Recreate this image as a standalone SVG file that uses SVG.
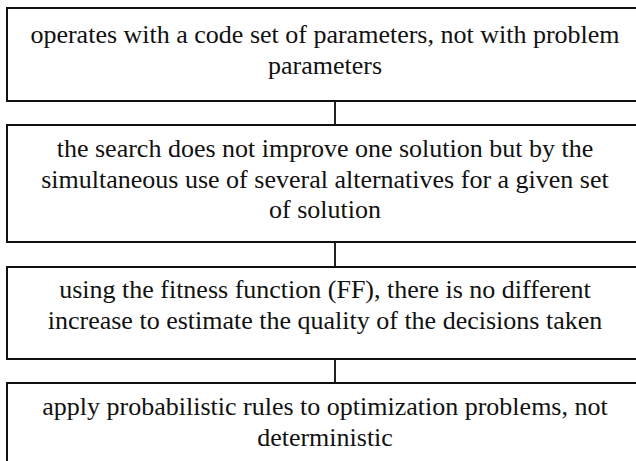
<svg xmlns="http://www.w3.org/2000/svg" width="636" height="461" viewBox="0 0 636 461">
  <style>
    .box { fill: #ffffff; stroke: #111111; stroke-width: 2; }
    .lbl { font-family: "Liberation Serif", "Times New Roman", serif; font-size: 26px; fill: #111111; text-anchor: middle; }
    .link { stroke: #222222; stroke-width: 2; fill: none; }
  </style>
  <rect x="0" y="0" width="636" height="461" fill="#ffffff"/>

  <!-- vertical links between the stacked boxes -->
  <g id="connectors">
    <line class="link" x1="335" y1="101" x2="335" y2="125"/>
    <line class="link" x1="335" y1="242" x2="335" y2="267"/>
    <line class="link" x1="335" y1="359" x2="335" y2="383"/>
  </g>

  <g id="node-code-set">
    <rect class="box" x="7" y="8" width="660" height="93"/>
    <text class="lbl" x="325" y="43">operates with a code set of parameters, not with problem</text>
    <text class="lbl" x="325" y="74">parameters</text>
  </g>

  <g id="node-parallel-search">
    <rect class="box" x="7" y="125" width="660" height="117"/>
    <text class="lbl" x="325" y="157">the search does not improve one solution but by the</text>
    <text class="lbl" x="325" y="188">simultaneous use of several alternatives for a given set</text>
    <text class="lbl" x="325" y="218">of solution</text>
  </g>

  <g id="node-fitness">
    <rect class="box" x="7" y="267" width="660" height="92"/>
    <text class="lbl" x="325" y="298">using the fitness function (FF), there is no different</text>
    <text class="lbl" x="325" y="329">increase to estimate the quality of the decisions taken</text>
  </g>

  <g id="node-probabilistic">
    <rect class="box" x="7" y="383" width="660" height="100"/>
    <text class="lbl" x="325" y="415">apply probabilistic rules to optimization problems, not</text>
    <text class="lbl" x="325" y="446">deterministic</text>
  </g>
</svg>
